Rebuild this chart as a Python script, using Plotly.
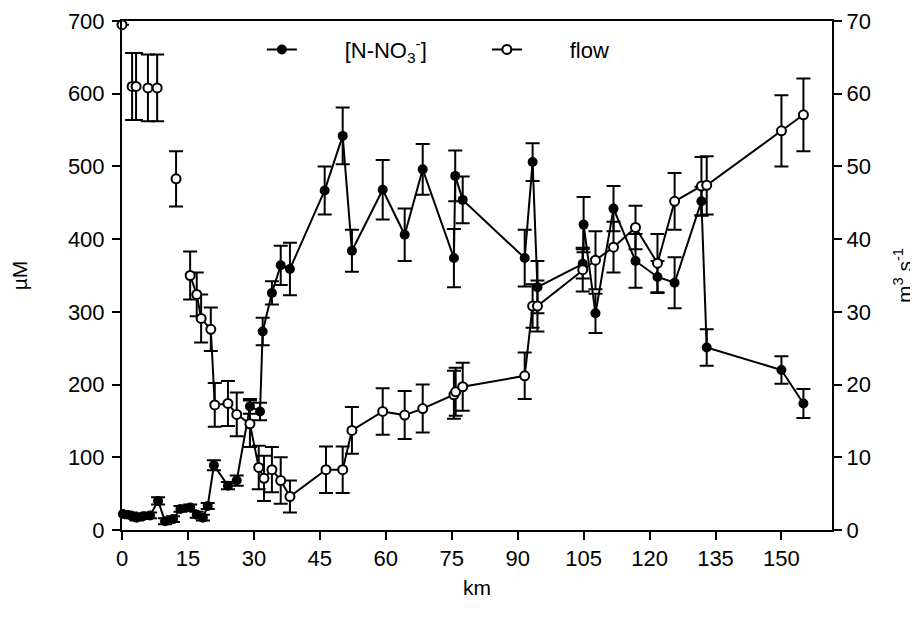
import plotly.graph_objects as go

# ---- data ----
# nitrate concentration (µM) along the river (km)
no3_km = [0.2, 2.0, 3.3, 4.8, 6.4, 8.2, 9.8, 11.6, 13.3, 15.5, 17.0, 18.4, 19.5,
          20.9, 24.1, 26.1, 29.1, 31.4, 32.0, 34.1, 36.1, 38.2, 46.1, 50.2, 52.3,
          59.3, 64.3, 68.4, 75.5, 75.8, 77.5, 91.6, 93.4, 94.5, 104.8, 105.0,
          107.7, 111.8, 116.8, 121.8, 125.7, 131.8, 133.0, 150.0, 155.0]
no3_uM = [22, 20, 17, 19, 20, 40, 12, 15, 29, 31, 21, 17, 33,
          89, 61, 68, 170, 163, 273, 326, 364, 359, 467, 542, 384,
          468, 406, 496, 374, 487, 454, 374, 506, 334, 366, 420,
          298, 442, 370, 348, 340, 452, 251, 220, 174]
no3_err = [4, 4, 4, 4, 4, 5, 4, 4, 4, 4, 4, 4, 4,
           7, 5, 7, 10, 12, 19, 16, 27, 36, 33, 39, 29,
           41, 36, 35, 40, 35, 32, 39, 26, 36, 20, 38,
           27, 31, 37, 22, 35, 20, 25, 19, 20]

# flow (m3 s-1), connected stretch
flow_km = [15.5, 17.0, 18.0, 20.2, 21.1, 24.1, 26.1, 29.1, 31.1, 32.3, 34.1, 36.1,
           38.2, 46.4, 50.2, 52.3, 59.3, 64.3, 68.4, 75.5, 75.9, 77.5, 91.6, 93.4,
           94.5, 104.8, 107.7, 111.8, 116.8, 121.8, 125.7, 131.8, 133.0, 150.0, 155.0]
flow_val = [35.0, 32.4, 29.1, 27.6, 17.2, 17.4, 15.9, 14.6, 8.6, 7.1, 8.3, 6.8,
            4.6, 8.3, 8.3, 13.7, 16.3, 15.8, 16.7, 18.6, 19.0, 19.7, 21.2, 30.8,
            30.8, 35.8, 37.1, 38.9, 41.6, 36.7, 45.2, 47.3, 47.4, 54.9, 57.1]
flow_err = [3.3, 3.0, 3.3, 3.0, 3.0, 3.1, 3.0, 3.2, 3.0, 3.1, 3.1, 3.2,
            2.2, 3.2, 3.2, 3.2, 3.2, 3.3, 3.3, 3.3, 3.3, 3.3, 3.2, 3.0,
            3.5, 3.0, 4.0, 3.5, 3.0, 4.0, 3.9, 4.0, 4.0, 4.9, 5.0]

# flow, upstream isolated points (not connected)
flow_up_km = [0.0, 2.3, 3.2, 5.9, 8.0, 12.3]
flow_up_val = [69.5, 61.0, 61.0, 60.8, 60.8, 48.3]
flow_up_err = [0.0, 4.6, 4.6, 4.6, 4.6, 3.8]

x_ticks = [0, 15, 30, 45, 60, 75, 90, 105, 120, 135, 150]
y_ticks = [0, 100, 200, 300, 400, 500, 600, 700]
y2_ticks = [0, 10, 20, 30, 40, 50, 60, 70]

FONT = "Liberation Sans, Arial, sans-serif"
BLACK = "#000000"
NB = "\u00a0"

fig = go.Figure()

fig.add_trace(go.Scatter(
    x=no3_km, y=no3_uM, mode="lines+markers",
    name=NB * 7 + "[N-NO<sub>3</sub><sup>-</sup>]",
    line=dict(color=BLACK, width=2),
    marker=dict(symbol="circle", size=10, color=BLACK),
    error_y=dict(type="data", array=no3_err, color=BLACK, thickness=2, width=7),
    cliponaxis=False,
    yaxis="y",
))

fig.add_trace(go.Scatter(
    x=flow_km, y=flow_val, mode="lines+markers",
    name=NB * 7 + "flow",
    line=dict(color=BLACK, width=2),
    marker=dict(symbol="circle", size=9, color="white", line=dict(color=BLACK, width=2)),
    error_y=dict(type="data", array=flow_err, color=BLACK, thickness=2, width=7),
    cliponaxis=False,
    yaxis="y2",
))

fig.add_trace(go.Scatter(
    x=flow_up_km, y=flow_up_val, mode="markers", showlegend=False,
    marker=dict(symbol="circle", size=9, color="white", line=dict(color=BLACK, width=2)),
    error_y=dict(type="data", array=flow_up_err, color=BLACK, thickness=2, width=7),
    cliponaxis=False,
    yaxis="y2",
))

axis_common = dict(
    showgrid=False, zeroline=False, showline=True, linecolor=BLACK, linewidth=2,
    ticks="outside", ticklen=8, tickwidth=1.5, tickcolor=BLACK,
    tickfont=dict(family=FONT, size=22, color=BLACK),
    automargin=False,
)

fig.update_layout(
    width=910, height=611,
    margin=dict(l=114, r=86, t=13, b=89),
    paper_bgcolor="white", plot_bgcolor="white",
    font=dict(family=FONT, size=22, color=BLACK),
    xaxis=dict(range=[0, 161.5], tickvals=x_ticks, mirror=True,
               title=dict(text="km", font=dict(family=FONT, size=21, color=BLACK), standoff=10),
               **axis_common),
    yaxis=dict(range=[0, 700], tickvals=y_ticks, ticklabelstandoff=3,
               title=dict(text="µM", font=dict(family=FONT, size=21, color=BLACK), standoff=40),
               **axis_common),
    yaxis2=dict(range=[0, 70], tickvals=y2_ticks, overlaying="y", side="right",
                title=dict(text="m<sup>3</sup> s<sup>-1</sup>",
                           font=dict(family=FONT, size=21, color=BLACK), standoff=27),
                **axis_common),
    legend=dict(orientation="h", x=0.197, y=0.985, xanchor="left", yanchor="top",
                font=dict(family=FONT, size=22, color=BLACK),
                bgcolor="rgba(0,0,0,0)", itemwidth=30, entrywidth=180, entrywidthmode="pixels"),
    showlegend=True,
)

fig.write_html("out.html")
